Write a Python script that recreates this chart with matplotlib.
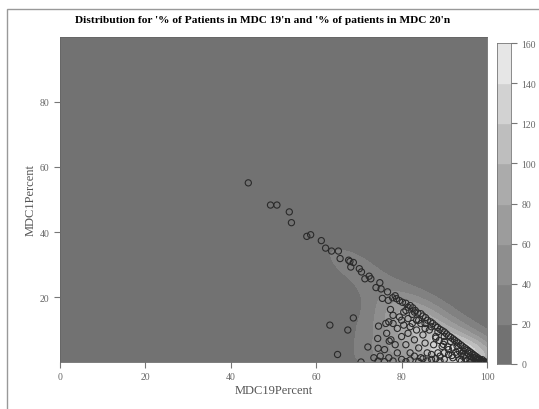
import numpy as np
import matplotlib.pyplot as plt
from matplotlib.patches import Rectangle

# ==== data ====
# scattered points along the upper edge
mdc19_edge = [44.1, 49.3, 50.8, 53.7, 54.2, 57.8, 58.7, 61.2, 62.2, 63.6, 65.2, 65.6,
              67.6, 67.9, 68.7, 68.1, 70.1, 70.6, 71.4, 72.4, 72.8, 74.9, 74.0, 75.2,
              76.7, 75.5, 76.9, 77.9, 78.8, 77.4]
mdc1_edge = [55.1, 48.3, 48.3, 46.2, 42.9, 38.7, 39.2, 37.4, 35.1, 34.2, 34.2, 31.9,
             31.4, 31.0, 30.7, 29.3, 28.8, 27.8, 25.7, 26.5, 25.7, 24.5, 23.0, 22.6,
             21.7, 19.7, 19.1, 19.9, 19.6, 16.3]

# isolated points below the edge
mdc19_low = [63.2, 65.0, 68.7, 67.4, 74.6, 76.3, 74.4, 72.1, 74.5, 77.1, 70.5]
mdc1_low = [11.5, 2.5, 13.7, 10.0, 11.2, 12.0, 7.4, 4.8, 4.4, 6.6, 0.2]

# dense band along the diagonal near 100 / 0
mdc19_diag = [78.5, 79.5, 80.2, 81.0, 81.5, 82.0, 82.6, 83.2, 83.8, 84.5, 85.0, 85.6,
              86.1, 86.8, 87.3, 87.9, 88.4, 89.0, 89.5, 90.0, 90.5, 91.0, 91.5, 92.0,
              92.4, 92.9, 93.3, 93.8, 94.2, 94.7, 95.1, 95.5, 95.9, 96.3, 96.7, 97.1,
              97.5, 97.9, 98.3, 98.7, 99.1, 99.5, 99.8,
              84.0, 85.5, 87.0, 88.5, 90.0, 91.5, 93.0, 94.5, 96.0, 97.5, 99.0,
              88.0, 90.0, 92.0, 94.0, 96.0, 98.0,
              91.0, 93.0, 95.0, 97.0, 90.0, 92.0, 94.0, 96.0,
              93.5, 94.8, 95.6, 96.8, 97.7, 98.5, 99.3, 98.9, 97.3, 96.4,
              95.3, 94.4, 93.6, 92.7, 91.8, 90.8, 89.8, 88.8]
mdc1_diag = [20.5, 19.0, 18.5, 18.2, 17.0, 17.5, 16.8, 16.0, 15.2, 15.0, 14.3, 13.8,
             13.0, 12.5, 12.0, 11.3, 10.8, 10.2, 9.8, 9.4, 8.8, 8.2, 7.8, 7.3,
             6.9, 6.4, 6.0, 5.5, 5.1, 4.6, 4.2, 3.8, 3.4, 3.0, 2.6, 2.2,
             1.8, 1.4, 1.0, 0.6, 0.4, 0.2, 0.1,
             13.0, 12.0, 11.0, 9.5, 8.0, 6.5, 5.0, 3.5, 2.0, 0.8, 0.1,
             8.0, 6.5, 4.5, 2.8, 1.0, 0.2,
             4.0, 2.5, 1.2, 0.3, 3.0, 1.5, 0.5, 0.1,
             3.6, 2.4, 2.9, 1.6, 1.1, 0.4, 0.3, 0.9, 1.4, 0.7,
             0.6, 1.9, 1.0, 3.2, 2.2, 4.8, 5.6, 6.8]

# inside of the triangle
mdc19_in = [78.0, 79.0, 80.0, 80.5, 81.0, 81.5, 82.0, 82.5, 83.0, 83.5, 84.0, 84.5,
            85.0, 85.5, 86.0, 86.5, 87.0, 87.5, 88.0, 88.5, 89.0, 89.5, 76.0, 77.0,
            78.0, 79.0, 80.0, 81.0, 82.0, 83.0, 84.0, 85.0, 86.0, 87.0, 88.0, 89.0,
            90.0, 91.0, 79.5, 80.5, 81.5, 82.5, 83.5, 84.5, 85.5, 76.5, 77.5, 78.5,
            75.0, 74.5, 73.5, 76.0, 77.0, 78.0, 80.0, 81.0, 82.0, 83.0]
mdc1_in = [12.0, 10.5, 8.0, 11.5, 5.5, 9.0, 3.0, 12.0, 7.0, 10.0, 4.5, 1.5,
           8.5, 6.0, 3.0, 10.0, 1.0, 5.5, 7.5, 3.0, 0.5, 5.0, 4.0, 1.5,
           0.5, 3.0, 1.0, 0.3, 0.8, 2.0, 0.3, 1.2, 0.5, 2.5, 1.2, 2.0,
           1.0, 2.5, 14.0, 15.5, 13.5, 14.8, 13.0, 12.0, 10.5, 9.0, 7.0, 5.5,
           2.0, 0.5, 1.5, 0.3, 12.5, 14.5, 13.0, 16.0, 11.0, 15.5]

mdc19 = np.array(mdc19_edge + mdc19_low + mdc19_diag + mdc19_in)
mdc1 = np.array(mdc1_edge + mdc1_low + mdc1_diag + mdc1_in)

levels = [0, 20, 40, 60, 80, 100, 120, 140, 160]
band_colors = ['#727272', '#818181', '#8e8e8e', '#9c9c9c',
               '#ababab', '#bebebe', '#d2d2d2', '#e6e6e6']

title = "Distribution for '% of Patients in MDC 19'n and '% of patients in MDC 20'n"

# ==== density on a grid ====
gx = np.linspace(0, 100, 200)
gy = np.linspace(0.2, 99.8, 200)
X, Y = np.meshgrid(gx, gy)
hx, hy = 5.0, 4.0
Z = np.zeros_like(X)
for px, py in zip(mdc19, mdc1):
    Z += np.exp(-0.5 * (((X - px) / hx) ** 2 + ((Y - py) / hy) ** 2))
Z = Z * 2.8
Z = np.clip(Z, 0, 159.9)

plt.rcParams['font.family'] = ['Liberation Serif', 'DejaVu Serif']

fig = plt.figure(figsize=(5.39, 4.10), dpi=100)
ax = fig.add_axes([60 / 539, 47 / 410, 427 / 539, 325 / 410])
cax = fig.add_axes([497 / 539, 45 / 410, 14 / 539, 321 / 410])

ax.contourf(X, Y, Z, levels=levels, colors=band_colors)
ax.scatter(mdc19, mdc1, s=20, facecolors='none', edgecolors='#2a2a2a', linewidths=0.8)

ax.set_xlim(0, 100)
ax.set_ylim(0.2, 99.8)
ax.set_xticks([0, 20, 40, 60, 80, 100])
ax.set_yticks([20, 40, 60, 80])
ax.tick_params(labelsize=7, colors='#777777', labelcolor='#666666', length=4, width=0.8)
for s in ax.spines.values():
    s.set_color('#666666')
    s.set_linewidth(0.6)
ax.set_xlabel("MDC19Percent", fontsize=9, color='#555555', labelpad=2)
ax.set_ylabel("MDC1Percent", fontsize=9, color='#555555', labelpad=2)
ax.set_title(title, fontsize=8.2, fontweight='bold', pad=11, x=0.475)

# ==== key ====
for i in range(len(band_colors)):
    cax.axhspan(levels[i], levels[i + 1], color=band_colors[i])
cax.set_ylim(0, 160)
cax.set_xlim(0, 1)
cax.set_xticks([])
cax.yaxis.tick_right()
cax.set_yticks(levels)
cax.tick_params(labelsize=7, colors='#777777', labelcolor='#666666', length=4, width=0.8)
for s in cax.spines.values():
    s.set_color('#777777')
    s.set_linewidth(0.6)

# outer frame
fig.add_artist(Rectangle((7 / 539, -0.1), 2.0, 0.1 + 400 / 410, transform=fig.transFigure,
                         fill=False, edgecolor='#999999', linewidth=1.0, clip_on=False))

plt.savefig("out.png", dpi=100)
